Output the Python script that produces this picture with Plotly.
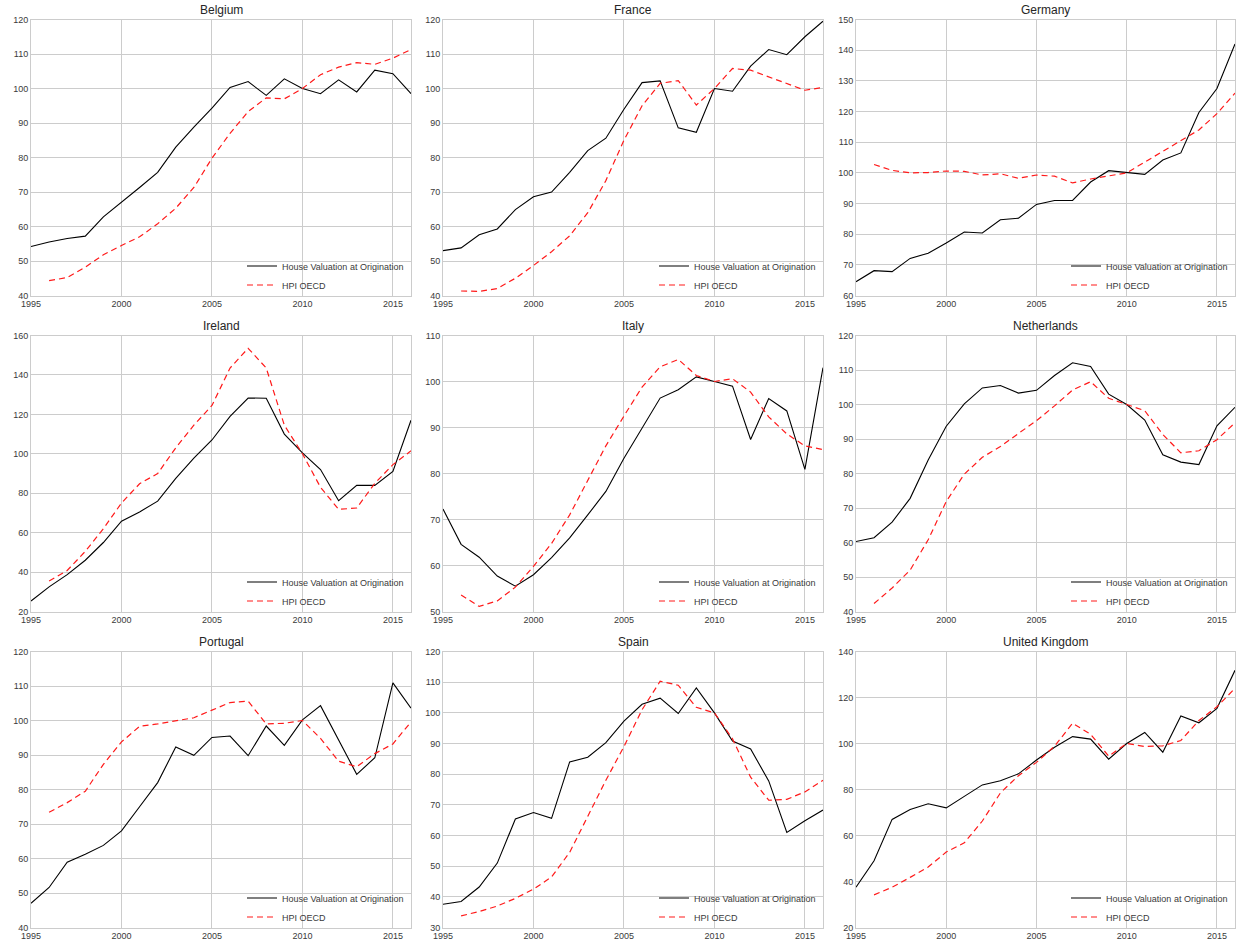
import plotly.graph_objects as go

years = list(range(1995, 2017))
countries = ["Belgium", "France", "Germany", "Ireland", "Italy", "Netherlands",
             "Portugal", "Spain", "United Kingdom"]

belgium_hvo = [54.2, 55.5, 56.5, 57.2, 62.8, 67.0, 71.3, 75.7, 83.0, 88.8, 94.3, 100.3,
               102.0, 98.0, 102.8, 100.0, 98.5, 102.5, 99.0, 105.3, 104.3, 98.5]
belgium_hpi = [None, 44.3, 45.2, 48.2, 51.8, 54.5, 57.0, 60.8, 65.3, 71.3, 79.8, 87.0,
               93.3, 97.3, 97.0, 100.0, 104.0, 106.2, 107.5, 107.0, 108.8, 111.3]

france_hvo = [53.0, 53.8, 57.6, 59.3, 64.9, 68.6, 70.0, 75.7, 82.0, 85.6, 94.0, 101.7,
              102.2, 88.6, 87.3, 100.0, 99.2, 106.5, 111.3, 109.8, 115.0, 119.5]
france_hpi = [None, 41.3, 41.2, 42.0, 45.0, 48.7, 52.7, 57.3, 64.0, 73.3, 85.0, 95.0,
              101.5, 102.3, 95.2, 100.0, 105.8, 105.3, 103.3, 101.3, 99.5, 100.3]

germany_hvo = [64.5, 68.1, 67.8, 72.1, 73.8, 77.1, 80.7, 80.4, 84.7, 85.2, 89.7, 91.0,
               91.0, 97.0, 100.7, 100.0, 99.5, 104.2, 106.5, 119.7, 127.5, 142.0]
germany_hpi = [None, 102.7, 100.8, 100.0, 100.1, 100.6, 100.5, 99.3, 99.7, 98.2, 99.3, 98.9,
               96.7, 98.0, 99.0, 100.0, 103.5, 107.0, 110.3, 114.0, 119.3, 126.0]

ireland_hvo = [25.3, 32.5, 38.7, 46.0, 55.0, 65.8, 70.5, 76.0, 87.5, 97.8, 107.0, 119.0,
               128.3, 128.2, 110.0, 100.5, 92.0, 76.2, 84.0, 84.0, 91.0, 117.0]
ireland_hpi = [None, 35.5, 40.8, 50.5, 62.0, 75.0, 84.8, 90.0, 103.0, 114.5, 124.5, 143.5,
               153.5, 143.5, 114.5, 100.0, 83.0, 71.8, 72.5, 85.0, 94.5, 101.5]

italy_hvo = [72.3, 64.6, 61.8, 57.7, 55.5, 58.0, 61.7, 66.0, 71.0, 76.1, 83.3, 90.0,
             96.4, 98.2, 101.0, 100.0, 99.0, 87.4, 96.3, 93.6, 80.9, 103.0]
italy_hpi = [None, 53.6, 51.1, 52.3, 55.3, 59.8, 64.8, 71.0, 78.5, 86.0, 92.5, 98.8,
             103.2, 104.8, 101.3, 100.0, 100.6, 97.7, 92.3, 88.6, 86.0, 85.2]

netherlands_hvo = [60.3, 61.4, 65.9, 72.8, 83.9, 93.7, 100.2, 104.8, 105.5, 103.3, 104.1, 108.4,
                   112.1, 111.0, 103.0, 100.0, 95.5, 85.4, 83.3, 82.6, 93.8, 99.2]
netherlands_hpi = [None, 42.3, 46.8, 52.0, 60.8, 71.9, 79.8, 84.7, 87.8, 91.6, 95.3, 99.6,
                   104.2, 106.6, 101.8, 100.0, 98.2, 91.3, 86.0, 86.6, 89.8, 94.7]

portugal_hvo = [47.0, 51.6, 58.9, 61.2, 63.8, 68.0, 75.0, 82.0, 92.3, 89.9, 95.1, 95.5,
                89.8, 98.4, 92.8, 100.2, 104.3, 94.3, 84.4, 89.2, 110.9, 103.6]
portugal_hpi = [None, 73.4, 76.2, 79.5, 87.3, 93.8, 98.3, 99.0, 100.0, 100.8, 103.0, 105.2,
                105.6, 99.0, 99.2, 100.0, 94.8, 88.2, 86.6, 90.4, 93.2, 99.6]

spain_hvo = [37.6, 38.5, 43.2, 51.0, 65.4, 67.5, 65.6, 84.0, 85.5, 90.3, 97.3, 102.8,
             104.8, 99.8, 108.1, 100.0, 90.8, 88.2, 77.8, 61.0, 64.8, 68.3]
spain_hpi = [None, 33.8, 35.2, 37.0, 39.5, 42.5, 46.5, 54.5, 66.3, 78.0, 89.0, 101.0,
             110.3, 109.0, 101.8, 100.0, 91.5, 79.0, 71.5, 71.8, 74.2, 78.0]

uk_hvo = [37.5, 49.0, 67.0, 71.3, 73.8, 72.0, 77.0, 82.0, 83.8, 86.8, 92.8, 98.4,
          103.0, 101.9, 93.2, 100.0, 104.8, 96.2, 112.0, 109.0, 115.3, 131.8]
uk_hpi = [None, 34.2, 37.5, 41.8, 46.3, 52.8, 56.8, 66.3, 78.5, 86.0, 91.8, 98.8,
          108.8, 104.0, 94.5, 100.0, 98.7, 99.0, 101.3, 110.0, 116.0, 124.0]

hvo_series = [belgium_hvo, france_hvo, germany_hvo, ireland_hvo, italy_hvo,
              netherlands_hvo, portugal_hvo, spain_hvo, uk_hvo]
hpi_series = [belgium_hpi, france_hpi, germany_hpi, ireland_hpi, italy_hpi,
              netherlands_hpi, portugal_hpi, spain_hpi, uk_hpi]

y_ranges = [(40, 120), (40, 120), (60, 150), (20, 160), (50, 110), (40, 120),
            (40, 120), (30, 120), (20, 140)]
y_dticks = [10, 10, 10, 20, 10, 10, 10, 10, 20]
x_ticks = [1995, 2000, 2005, 2010, 2015]

W, H = 1236, 945
col_px = [(31, 411), (443, 823), (856, 1235)]
row_px = [(19.5, 295.5), (335.5, 611.5), (651.5, 927.5)]

FONT = "Liberation Sans, Arial, sans-serif"
TXT = "#3a3a3a"
GRID = "#cccccc"

fig = go.Figure()
layout = dict(
    width=W, height=H,
    margin=dict(l=0, r=0, t=0, b=0, autoexpand=False),
    paper_bgcolor="white", plot_bgcolor="white",
    font=dict(family=FONT, size=9, color=TXT),
    hovermode=False,
    annotations=[],
)

for i, name in enumerate(countries):
    r, c = divmod(i, 3)
    k = "" if i == 0 else str(i + 1)
    x0, x1 = col_px[c]
    y0, y1 = row_px[r]
    leg = "legend" if i == 0 else f"legend{i + 1}"
    fig.add_trace(go.Scatter(
        x=years, y=hvo_series[i], mode="lines", name="House Valuation at Origination",
        line=dict(color="black", width=1.1), xaxis="x" + k, yaxis="y" + k,
        legend=leg, connectgaps=False))
    fig.add_trace(go.Scatter(
        x=years, y=hpi_series[i], mode="lines", name="HPI OECD",
        line=dict(color="#ff1a1a", width=1.2, dash="6px,4px"), xaxis="x" + k, yaxis="y" + k,
        legend=leg, connectgaps=False))
    layout["xaxis" + k] = dict(
        domain=[x0 / W, x1 / W], anchor="y" + k, range=[1995, 2016],
        tickvals=x_ticks, showgrid=True, gridcolor=GRID, gridwidth=1,
        showline=True, mirror=True, linecolor=GRID, linewidth=1,
        zeroline=False, ticks="", automargin=False, tickfont=dict(size=9, color=TXT))
    layout["yaxis" + k] = dict(
        domain=[1 - y1 / H, 1 - y0 / H], anchor="x" + k, range=list(y_ranges[i]),
        dtick=y_dticks[i], tick0=0, showgrid=True, gridcolor=GRID, gridwidth=1,
        showline=True, mirror=True, linecolor=GRID, linewidth=1,
        zeroline=False, ticks="", automargin=False, tickfont=dict(size=9, color=TXT))
    layout[leg] = dict(
        x=(x1 - 2) / W, xanchor="right", y=1 - (y1 + 4) / H, yanchor="bottom",
        bgcolor="rgba(0,0,0,0)", borderwidth=0, font=dict(size=9, color=TXT),
        itemwidth=30, tracegroupgap=0)
    layout["annotations"].append(dict(
        text=name, x=(x0 + x1) / 2 / W, y=1 - (y0 - 0.5) / H, xref="paper", yref="paper",
        xanchor="center", yanchor="bottom", showarrow=False,
        font=dict(size=12, color="#262626", family=FONT)))

fig.update_layout(**layout)
fig.write_html(
    "out.html",
    config={"displayModeBar": False},
    post_script="document.body.style.margin='0';document.body.style.overflow='hidden';",
)
